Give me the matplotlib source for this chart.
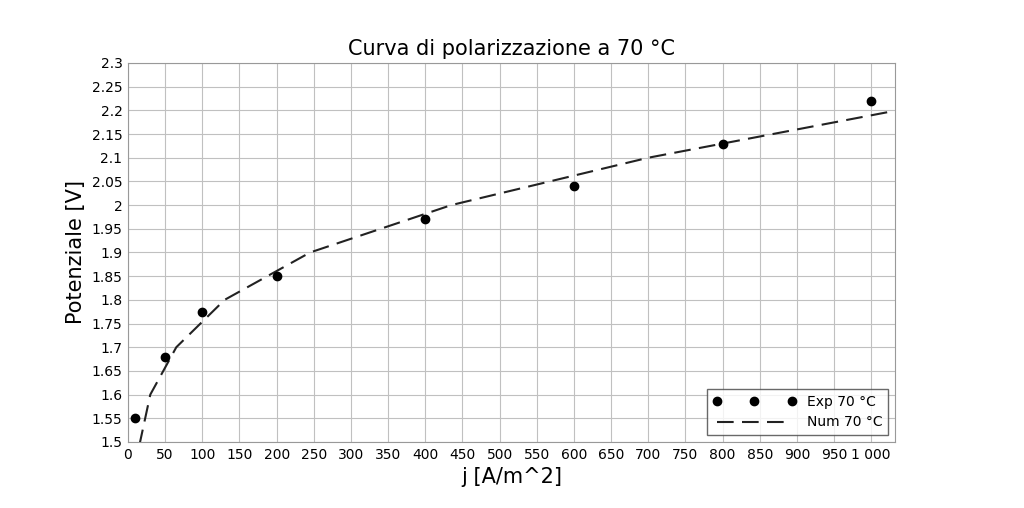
import matplotlib.pyplot as plt
import numpy as np
from matplotlib.ticker import FuncFormatter

# experimental data
exp_j = [10, 50, 100, 200, 400, 600, 800, 1000]
exp_v = [1.55, 1.68, 1.775, 1.85, 1.97, 2.04, 2.13, 2.22]

# numerical curve
num_j = [8, 30, 65, 130, 245, 435, 700, 1035]
num_v = [1.44, 1.6, 1.7, 1.8, 1.9, 2.0, 2.1, 2.2]

fig = plt.figure(figsize=(10.24, 5.08), dpi=100)
ax = fig.add_axes([0.125, 0.13, 0.749, 0.746])

ax.plot(num_j, num_v, color="#222222", lw=1.5, dashes=(8, 4), label="Num 70 °C", zorder=3)
ax.plot(exp_j, exp_v, "o", color="black", ms=6, label="Exp 70 °C", zorder=4)

ax.set_xlim(0, 1032)
ax.set_ylim(1.5, 2.3)
ax.set_xticks(np.arange(0, 1001, 50))
ax.set_yticks(np.arange(1.5, 2.301, 0.05))


def fmt_x(x, pos):
    return "1 000" if x >= 1000 else f"{x:g}"


ax.xaxis.set_major_formatter(FuncFormatter(fmt_x))
ax.yaxis.set_major_formatter(FuncFormatter(lambda y, p: f"{round(y, 2):g}"))
ax.tick_params(labelsize=10, length=0, pad=4)
ax.grid(True, color="#c0c0c0", lw=0.8)
for s in ax.spines.values():
    s.set_color("#999999")

ax.set_title("Curva di polarizzazione a 70 °C", fontsize=15)
ax.set_xlabel("j [A/m^2]", fontsize=15)
ax.set_ylabel("Potenziale [V]", fontsize=15)

h, l = ax.get_legend_handles_labels()
ax.legend(h[::-1], l[::-1], loc="lower right", numpoints=3, handlelength=6,
          fancybox=False, edgecolor="#444444", fontsize=10)

fig.savefig("out.png")
